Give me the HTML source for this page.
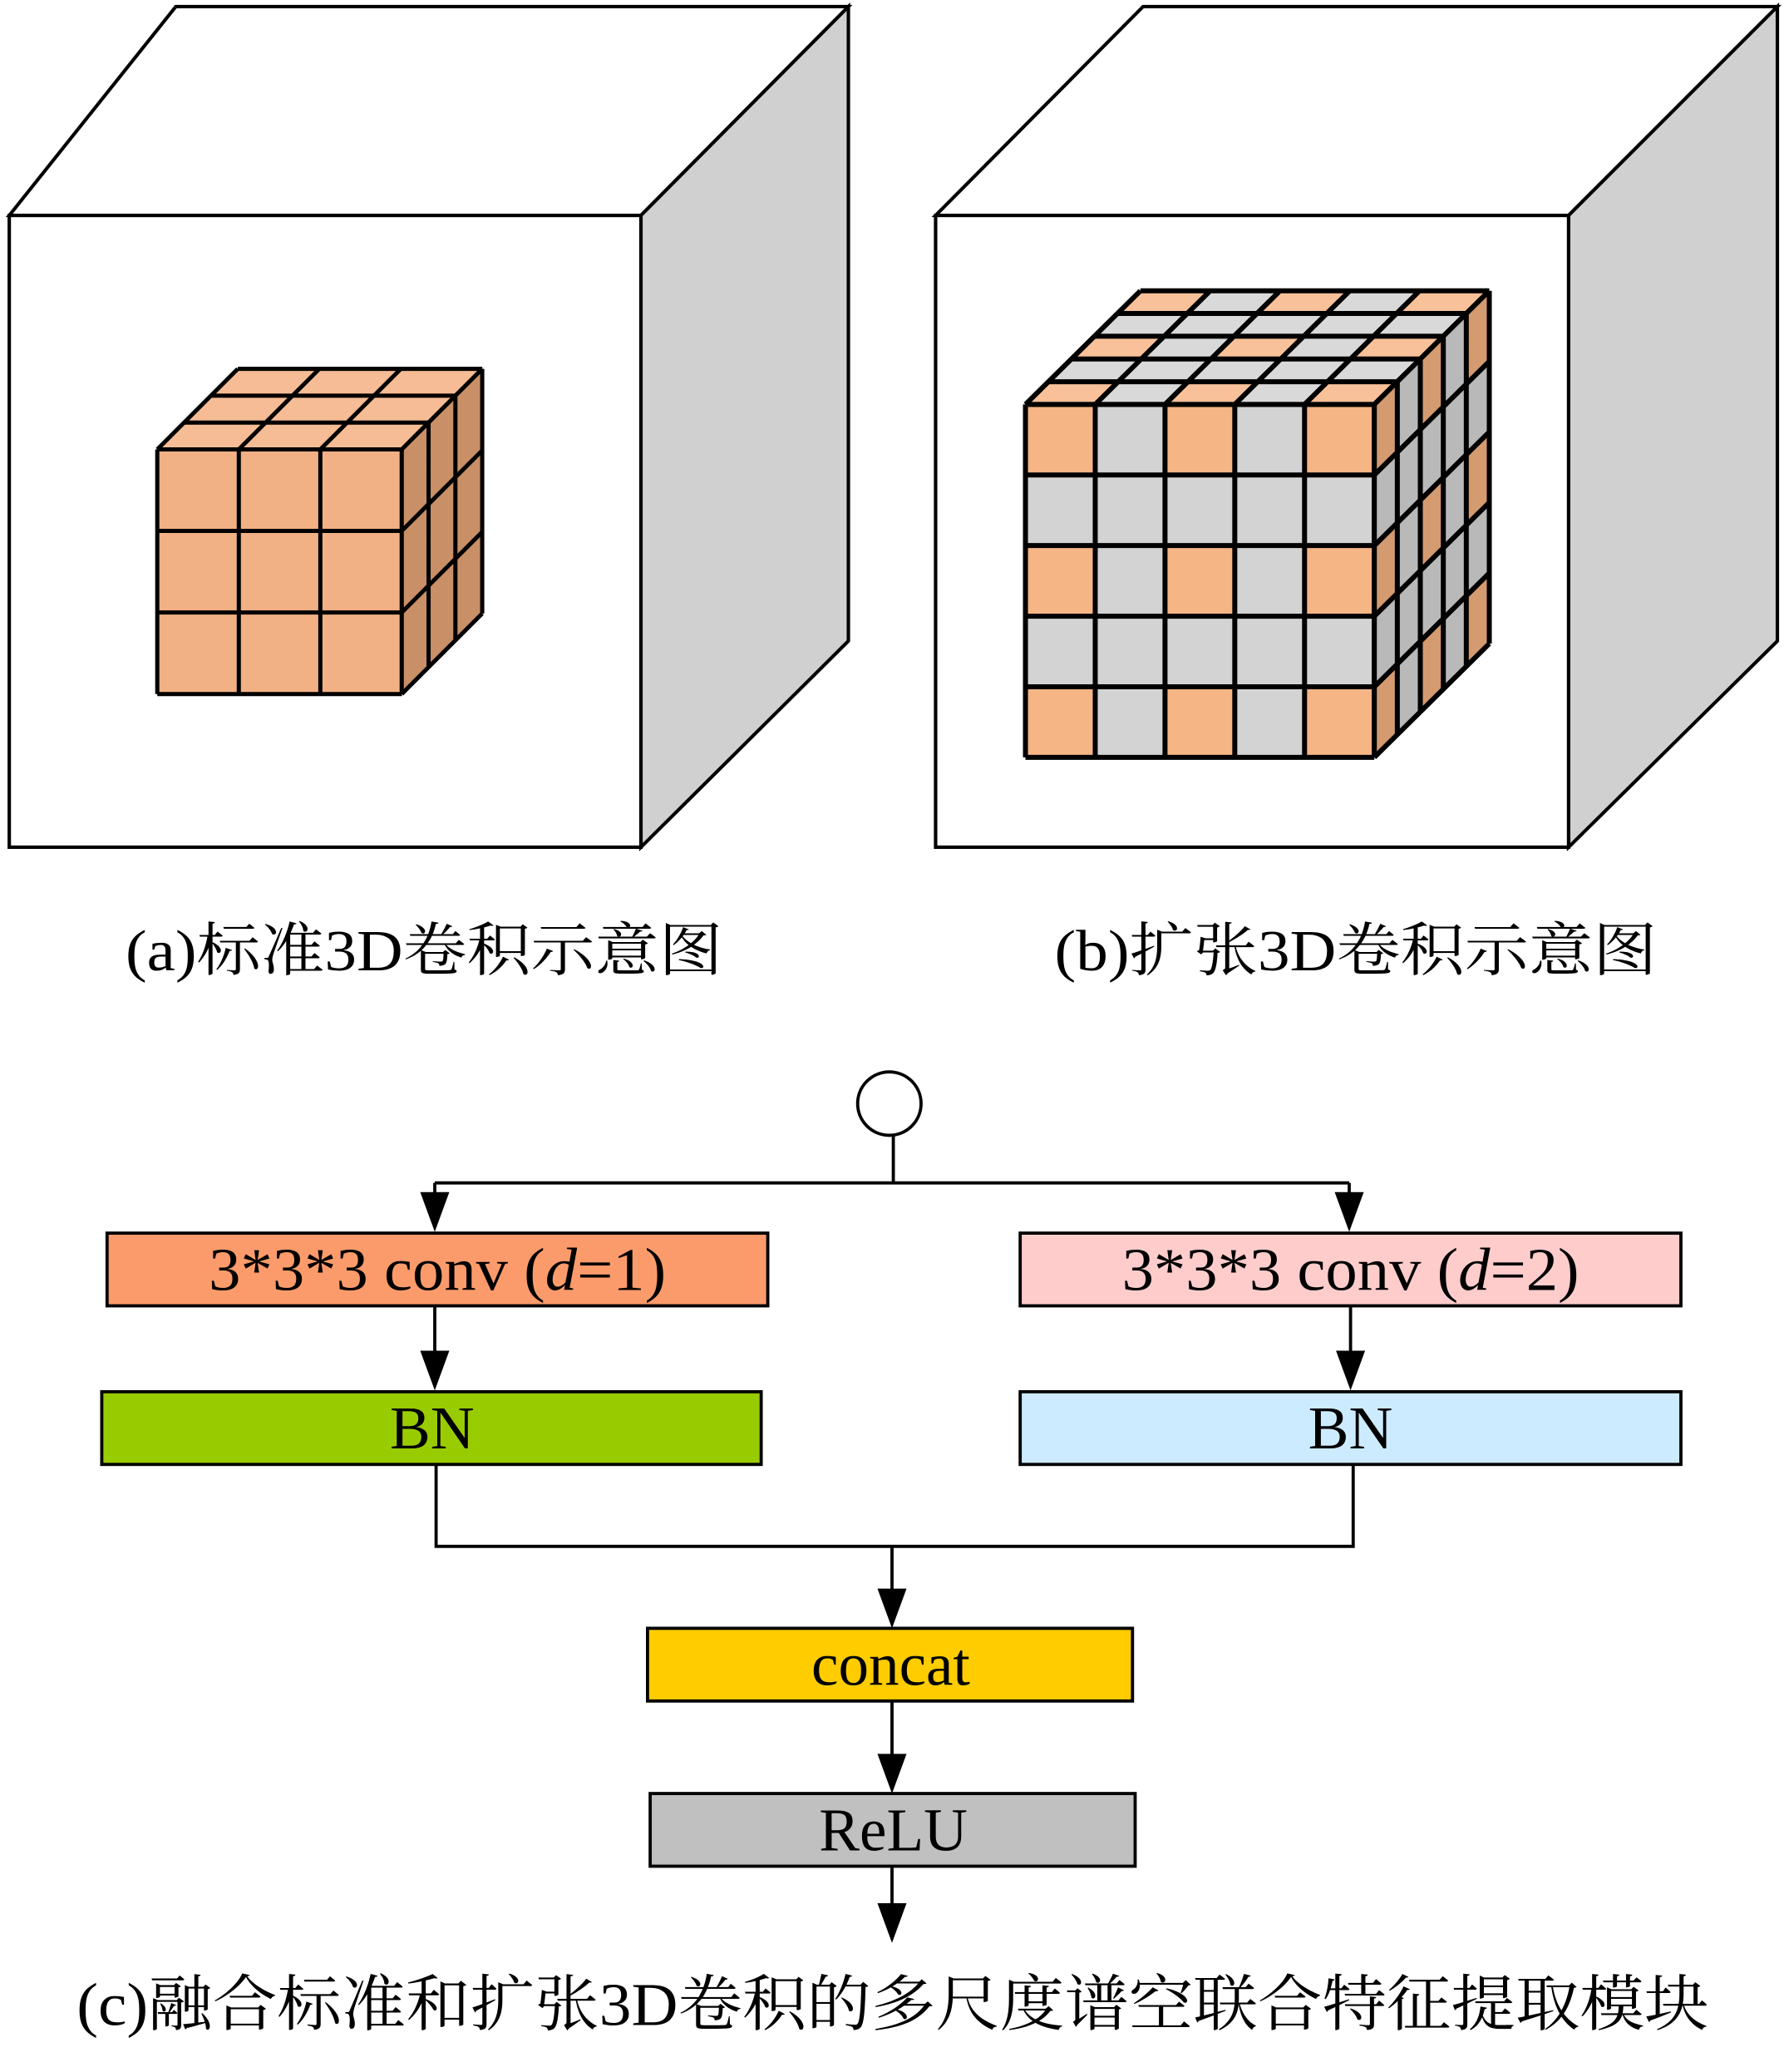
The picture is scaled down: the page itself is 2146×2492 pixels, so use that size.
<!DOCTYPE html>
<html><head><meta charset="utf-8">
<style>
html,body{margin:0;padding:0;background:#fff;}
svg{display:block;}
text{font-family:"Liberation Serif","Noto Serif CJK SC",serif;fill:#000;}
.ln{fill:none;stroke:#000;stroke-width:2;vector-effect:non-scaling-stroke;}
</style></head><body>
<svg width="2146" height="2492" viewBox="0 0 1350 1567.7" xmlns="http://www.w3.org/2000/svg">
<!-- Cube a -->
<polygon points="7,163 133,5 642,5 485,163" fill="#fff" stroke="#000" stroke-width="2.6"/>
<polygon points="485,163 642,5 642,485 485,641" fill="#d0d0d0" stroke="#000" stroke-width="2.6"/>
<rect x="7" y="163" width="478" height="478" fill="#fff" stroke="#000" stroke-width="2.6"/>
<!-- small cube a -->
<g transform="matrix(61.7,0,0,61.7,119,340)"><rect x="0" y="0" width="3" height="3" fill="#f2b185"/><path class="ln" style="stroke-width:5" d="M0 0H3M0 1H3M0 2H3M0 3H3M0 0V3M1 0V3M2 0V3M3 0V3"/></g>
<g transform="matrix(61.7,0,20.3,-20.3,119,340)"><rect x="0" y="0" width="3" height="3" fill="#f5bc95"/><path class="ln" style="stroke-width:5" d="M0 0H3M0 1H3M0 2H3M0 3H3M0 0V3M1 0V3M2 0V3M3 0V3"/></g>
<g transform="matrix(20.3,-20.3,0,61.7,304,340)"><rect x="0" y="0" width="3" height="3" fill="#c98f67"/><path class="ln" style="stroke-width:5" d="M0 0H3M0 1H3M0 2H3M0 3H3M0 0V3M1 0V3M2 0V3M3 0V3"/></g>

<!-- Cube b -->
<polygon points="708,163 865,5 1345,5 1187,163" fill="#fff" stroke="#000" stroke-width="2.6"/>
<polygon points="1187,163 1345,5 1345,485 1187,641" fill="#d0d0d0" stroke="#000" stroke-width="2.6"/>
<rect x="708" y="163" width="479" height="478" fill="#fff" stroke="#000" stroke-width="2.6"/>
<!-- small cube b front -->
<g transform="matrix(52.8,0,0,53.4,776,306)">
<rect x="0" y="0" width="5" height="5" fill="#d3d3d3"/>
<g fill="#f6b584"><rect x="0" y="0" width="1" height="1"/><rect x="2" y="0" width="1" height="1"/><rect x="4" y="0" width="1" height="1"/><rect x="0" y="2" width="1" height="1"/><rect x="2" y="2" width="1" height="1"/><rect x="4" y="2" width="1" height="1"/><rect x="0" y="4" width="1" height="1"/><rect x="2" y="4" width="1" height="1"/><rect x="4" y="4" width="1" height="1"/></g>
<path class="ln" style="stroke-width:6" d="M0 0H5M0 1H5M0 2H5M0 3H5M0 4H5M0 5H5M0 0V5M1 0V5M2 0V5M3 0V5M4 0V5M5 0V5"/>
</g>
<!-- top -->
<g transform="matrix(52.8,0,17.4,-17.2,776,306)">
<rect x="0" y="0" width="5" height="5" fill="#d9d9d9"/>
<g fill="#f8c199"><rect x="0" y="0" width="1" height="1"/><rect x="2" y="0" width="1" height="1"/><rect x="4" y="0" width="1" height="1"/><rect x="0" y="2" width="1" height="1"/><rect x="2" y="2" width="1" height="1"/><rect x="4" y="2" width="1" height="1"/><rect x="0" y="4" width="1" height="1"/><rect x="2" y="4" width="1" height="1"/><rect x="4" y="4" width="1" height="1"/></g>
<path class="ln" style="stroke-width:6" d="M0 0H5M0 1H5M0 2H5M0 3H5M0 4H5M0 5H5M0 0V5M1 0V5M2 0V5M3 0V5M4 0V5M5 0V5"/>
</g>
<!-- right -->
<g transform="matrix(17.4,-17.2,0,53.4,1040,306)">
<rect x="0" y="0" width="5" height="5" fill="#b9b9b9"/>
<g fill="#d49a70"><rect x="0" y="0" width="1" height="1"/><rect x="2" y="0" width="1" height="1"/><rect x="4" y="0" width="1" height="1"/><rect x="0" y="2" width="1" height="1"/><rect x="2" y="2" width="1" height="1"/><rect x="4" y="2" width="1" height="1"/><rect x="0" y="4" width="1" height="1"/><rect x="2" y="4" width="1" height="1"/><rect x="4" y="4" width="1" height="1"/></g>
<path class="ln" style="stroke-width:6" d="M0 0H5M0 1H5M0 2H5M0 3H5M0 4H5M0 5H5M0 0V5M1 0V5M2 0V5M3 0V5M4 0V5M5 0V5"/>
</g>

<!-- captions -->
<text x="95" y="734" font-size="44" textLength="452" lengthAdjust="spacingAndGlyphs">(a)标准3D卷积示意图</text>
<text x="798" y="734" font-size="44" textLength="456" lengthAdjust="spacingAndGlyphs">(b)扩张3D卷积示意图</text>

<!-- part c -->
<g stroke="#000" stroke-width="2.4" fill="none">
<circle cx="673" cy="835" r="24" fill="#fff"/>
<path d="M676 859V895M329 895H1021M329 895V905M1021 895V905"/>
<path d="M329 988V1025M1022 988V1025"/>
<path d="M330 1108V1170H1024V1108M675 1170V1205"/>
<path d="M675 1287V1330M675 1412V1442"/>
</g>
<g fill="#000">
<polygon points="318,902 340,902 329,932"/>
<polygon points="1010,902 1032,902 1021,932"/>
<polygon points="318,1022 340,1022 329,1052"/>
<polygon points="1011,1022 1033,1022 1022,1052"/>
<polygon points="664,1202 686,1202 675,1232"/>
<polygon points="664,1327 686,1327 675,1357"/>
<polygon points="664,1440 686,1440 675,1470"/>
</g>
<g stroke="#000" stroke-width="2.4">
<rect x="81" y="933" width="500" height="55" fill="#fb9b6b"/>
<rect x="772" y="933" width="500" height="55" fill="#ffcccc"/>
<rect x="77" y="1053" width="499" height="55" fill="#99cc00"/>
<rect x="772" y="1053" width="500" height="55" fill="#cdebff"/>
<rect x="490" y="1232" width="367" height="55" fill="#ffcc00"/>
<rect x="492" y="1357" width="367" height="55" fill="#c0c0c0"/>
</g>
<g font-size="46" text-anchor="middle">
<text x="331" y="976" textLength="346" lengthAdjust="spacingAndGlyphs">3*3*3 conv (<tspan font-style="italic">d</tspan>=1)</text>
<text x="1022" y="976" textLength="346" lengthAdjust="spacingAndGlyphs">3*3*3 conv (<tspan font-style="italic">d</tspan>=2)</text>
<text x="327" y="1096">BN</text>
<text x="1022" y="1096">BN</text>
<text x="674" y="1275">concat</text>
<text x="676" y="1400">ReLU</text>
</g>
<text x="58" y="1532" font-size="46" textLength="1235" lengthAdjust="spacingAndGlyphs">(c)融合标准和扩张3D卷积的多尺度谱空联合特征提取模块</text>
</svg>
</body></html>
